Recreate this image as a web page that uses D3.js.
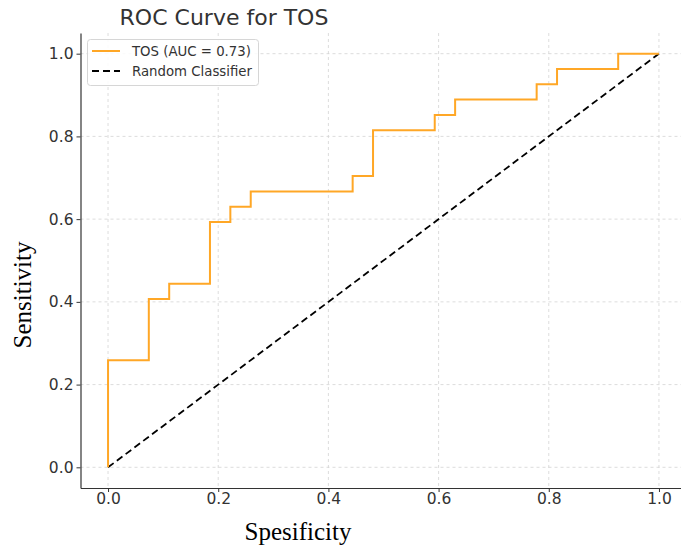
<!DOCTYPE html>
<html>
<head>
<meta charset="utf-8">
<script src="https://cdn.jsdelivr.net/npm/d3@7"></script>
<style>
  body { margin: 0; background: #fff; }
  svg { display: block; }
</style>
</head>
<body>
<div id="chart"></div>
<script>
// ROC curve for TOS, step points (multiples of 1/27)
var fpr = [0, 0, 0.074, 0.074, 0.111, 0.111, 0.185, 0.185, 0.222, 0.222, 0.259, 0.259,
    0.444, 0.444, 0.481, 0.481, 0.593, 0.593, 0.630, 0.630, 0.778, 0.778, 0.815, 0.815,
    0.926, 0.926, 1.0];
var tpr = [0, 0.259, 0.259, 0.407, 0.407, 0.444, 0.444, 0.593, 0.593, 0.630, 0.630, 0.667,
    0.667, 0.704, 0.704, 0.815, 0.815, 0.852, 0.852, 0.889, 0.889, 0.926, 0.926, 0.963,
    0.963, 1.0, 1.0];
var diagX = [0, 1];
var diagY = [0, 1];
var tickValues = [0, 0.2, 0.4, 0.6, 0.8, 1.0];
var legendLabels = ["TOS (AUC = 0.73)", "Random Classifier"];

var width = 681, height = 547;
// plot box (note: "top" is reserved on window, so use a margin object)
var box = { left: 80.5, right: 686.5, top: 33, bottom: 488 };

var svg = d3.select("#chart").append("svg")
    .attr("width", width)
    .attr("height", height);

var x = d3.scaleLinear().domain([-0.05, 1.05]).range([box.left, box.right]);
var y = d3.scaleLinear().domain([-0.05, 1.05]).range([box.bottom, box.top]);

// grid
var grid = svg.append("g");
grid.selectAll(".gx").data(tickValues).enter().append("line")
    .attr("x1", function (d) { return x(d); })
    .attr("x2", function (d) { return x(d); })
    .attr("y1", box.top).attr("y2", box.bottom)
    .style("stroke", "#d4d4d4").style("stroke-width", 0.8)
    .style("stroke-dasharray", "3,3");
grid.selectAll(".gy").data(tickValues).enter().append("line")
    .attr("y1", function (d) { return y(d); })
    .attr("y2", function (d) { return y(d); })
    .attr("x1", box.left).attr("x2", box.right)
    .style("stroke", "#d4d4d4").style("stroke-width", 0.8)
    .style("stroke-dasharray", "3,3");

// axes
var fmt = d3.format(".1f");
var xAxis = svg.append("g")
    .attr("transform", "translate(0," + box.bottom + ")")
    .call(d3.axisBottom(x).tickValues(tickValues).tickFormat(fmt).tickSize(4).tickSizeOuter(0));
var yAxis = svg.append("g")
    .attr("transform", "translate(" + box.left + ",0)")
    .call(d3.axisLeft(y).tickValues(tickValues).tickFormat(fmt).tickSize(4).tickSizeOuter(0));
[xAxis, yAxis].forEach(function (a) {
    a.select(".domain").style("stroke", "#333").style("stroke-width", 1.2);
    a.selectAll(".tick line").style("stroke", "#333");
    a.selectAll(".tick text")
        .style("font-family", "DejaVu Sans, sans-serif")
        .style("font-size", "15.5px")
        .style("fill", "#333");
});
xAxis.selectAll(".tick text").attr("dy", "0.6em");
yAxis.selectAll(".tick text").attr("x", -7);

// curves
var line = d3.line()
    .x(function (d) { return x(d[0]); })
    .y(function (d) { return y(d[1]); });

svg.append("path")
    .datum(d3.zip(diagX, diagY))
    .attr("d", line)
    .style("fill", "none")
    .style("stroke", "#000")
    .style("stroke-width", 1.8)
    .style("stroke-dasharray", "7,4");

svg.append("path")
    .datum(d3.zip(fpr, tpr))
    .attr("d", line)
    .style("fill", "none")
    .style("stroke", "#ffa726")
    .style("stroke-width", 2);

// title and labels
svg.append("text")
    .attr("x", 224).attr("y", 25)
    .attr("text-anchor", "middle")
    .style("font-family", "DejaVu Sans, sans-serif")
    .style("font-size", "22px")
    .style("fill", "#333")
    .text("ROC Curve for TOS");

svg.append("text")
    .attr("x", 298).attr("y", 540)
    .attr("text-anchor", "middle")
    .style("font-family", "Liberation Serif, serif")
    .style("font-size", "25px")
    .style("fill", "#000")
    .text("Spesificity");

svg.append("text")
    .attr("transform", "translate(31,295) rotate(-90)")
    .attr("text-anchor", "middle")
    .style("font-family", "Liberation Serif, serif")
    .style("font-size", "25px")
    .style("fill", "#000")
    .text("Sensitivity");

// legend
var legend = svg.append("g");
legend.append("rect")
    .attr("x", 87.5).attr("y", 39.5)
    .attr("width", 171).attr("height", 46)
    .attr("rx", 3)
    .style("fill", "#fff").style("fill-opacity", 0.85)
    .style("stroke", "#d6d6d6");
var items = legend.selectAll(".item").data(legendLabels).enter().append("g")
    .attr("transform", function (d, i) { return "translate(0," + (51 + i * 20) + ")"; });
items.append("line")
    .attr("x1", 92).attr("x2", 120)
    .style("stroke", function (d, i) { return i === 0 ? "#ffa726" : "#000"; })
    .style("stroke-width", function (d, i) { return i === 0 ? 2 : 1.8; })
    .style("stroke-dasharray", function (d, i) { return i === 0 ? null : "7,4"; });
items.append("text")
    .attr("x", 132).attr("y", 0).attr("dy", "0.35em")
    .style("font-family", "DejaVu Sans, sans-serif")
    .style("font-size", "13.3px")
    .style("fill", "#333")
    .text(function (d) { return d; });
</script>
</body>
</html>
